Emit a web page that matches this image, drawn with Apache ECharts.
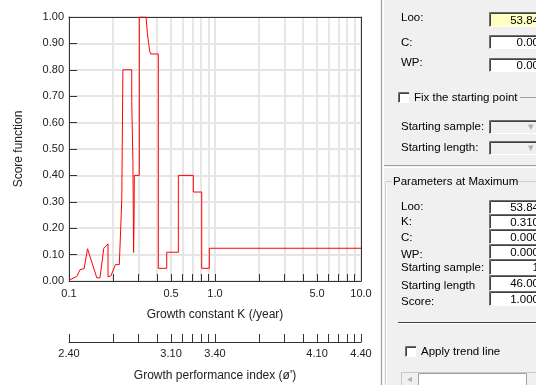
<!DOCTYPE html>
<html>
<head>
<meta charset="utf-8">
<script src="https://cdn.jsdelivr.net/npm/echarts@6/dist/echarts.min.js"></script>
<style>
  html, body { margin: 0; padding: 0; background: #ffffff; }
  #chart { width: 536px; height: 385px; }
</style>
</head>
<body>
<div id="chart"></div>
<script>
// Score function of the K-scan (ELEFAN), K on a log scale
const kValues = [
  0.100, 0.113, 0.119, 0.127, 0.134, 0.155, 0.163, 0.173, 0.185, 0.185,
  0.194, 0.208, 0.221, 0.226, 0.226, 0.230, 0.230, 0.234, 0.234, 0.269,
  0.269, 0.272, 0.274, 0.277, 0.279, 0.280, 0.303, 0.303, 0.337, 0.344,
  0.351, 0.357, 0.363, 0.409, 0.409, 0.467, 0.467, 0.561, 0.561, 0.710,
  0.710, 0.811, 0.811, 0.914, 0.914, 10.0
];
const scores = [
  0.003, 0.017, 0.043, 0.047, 0.122, 0.012, 0.012, 0.123, 0.141, 0.016,
  0.020, 0.062, 0.062, 0.062, 0.197, 0.197, 0.315, 0.315, 0.800, 0.800,
  0.680, 0.680, 0.453, 0.108, 0.225, 0.400, 0.400, 1.000, 1.000, 0.940,
  0.900, 0.870, 0.860, 0.860, 0.048, 0.048, 0.109, 0.109, 0.400, 0.400,
  0.337, 0.337, 0.048, 0.048, 0.124, 0.124
];

// K axis: grid / tick positions and the labelled values
const kGrid = [0.1, 0.2, 0.3, 0.4, 0.5, 0.6, 0.7, 0.8, 0.9, 1, 2, 3, 4, 5, 6, 7, 8, 9, 10];
const kLabelValues = [0.1, 0.5, 1, 5, 10];
const kTickLabels = ['0.1', '0.5', '1.0', '5.0', '10.0'];
// growth performance index labels at the same positions
const phiTickLabels = ['2.40', '3.10', '3.40', '4.10', '4.40'];

// panel fields
const inputLabels = ['Loo:', 'C:', 'WP:'];
const inputValues = ['53.84', '0.00', '0.00'];
const maxLabels = ['Loo:', 'K:', 'C:', 'WP:', 'Starting sample:', 'Starting length', 'Score:'];
const maxValues = ['53.84', '0.310', '0.000', '0.000', '1', '46.00', '1.000'];

const lg = v => Math.log10(v);
const FONT = '"Liberation Sans", Arial, sans-serif';

function pickLabel(list) {
  return function (v) {
    for (let i = 0; i < kLabelValues.length; i++) {
      if (Math.abs(lg(kLabelValues[i]) - v) < 1e-6) return list[i];
    }
    return '';
  };
}

const chart = echarts.init(document.getElementById('chart'), null, { renderer: 'canvas' });

// ---- side panel drawn as graphic elements ----
const PX = 380;
const PANEL_FONT = 11.5;
const graphics = [];
function txt(x, y, s, opt) {
  opt = opt || {};
  graphics.push({
    type: 'text', x: x, y: y, z: 10,
    style: {
      text: s, font: (opt.size || PANEL_FONT) + 'px ' + FONT, fill: opt.color || '#000',
      align: opt.align || 'left', verticalAlign: 'middle',
      textAlign: opt.align || 'left', textVerticalAlign: 'middle'
    }
  });
}
function rect(x, y, w, h, fill, stroke) {
  graphics.push({ type: 'rect', z: 5, shape: { x: x, y: y, width: w, height: h },
    style: { fill: fill, stroke: stroke || null, lineWidth: 1 } });
}
function line(x1, y1, x2, y2, c, w) {
  graphics.push({ type: 'line', z: 6, shape: { x1: x1, y1: y1, x2: x2, y2: y2 },
    style: { stroke: c, lineWidth: w || 1 } });
}
function sunken(x, y, w, h, fill) {
  rect(x, y, w, h, fill);
  line(x + 0.5, y + h, x + 0.5, y + 0.5, '#6d6d6d');
  line(x + 0.5, y + 0.5, x + w, y + 0.5, '#6d6d6d');
  line(x + 1.5, y + h - 1, x + 1.5, y + 1.5, '#404040');
  line(x + 1.5, y + 1.5, x + w, y + 1.5, '#404040');
  line(x + 0.5, y + h - 0.5, x + w, y + h - 0.5, '#ffffff');
}

rect(PX, 0, 156, 385, '#f0f0f0');
line(PX + 1.5, 0, PX + 1.5, 385, '#a0a0a0');
line(PX + 3.5, 0, PX + 3.5, 385, '#ffffff');

// upper panel: fitting inputs
const topBoxes = [[12, 15], [35, 14], [58, 14]];
const topLabelY = [18, 43, 63];
inputLabels.forEach((l, i) => {
  const b = topBoxes[i];
  txt(401, topLabelY[i], l);
  sunken(489, b[0], 52, b[1], i === 0 ? '#ffffc0' : '#ffffff');
  txt(539, b[0] + b[1] / 2 + 1, inputValues[i], { align: 'right' });
});
sunken(398, 92, 11, 11, '#ffffff');
txt(414, 97.5, 'Fix the starting point');
line(520, 97.5, 536, 97.5, '#a0a0a0');
txt(401, 127, 'Starting sample:');
txt(401, 148, 'Starting length:');
[[120, 14], [141, 14]].forEach(b => {
  sunken(489, b[0], 52, b[1], '#f0f0f0');
  txt(531, b[0] + 7, '\u25BE', { color: '#b0b0b0', size: 11, align: 'center' });
});
line(PX + 4, 165.5, 536, 165.5, '#a0a0a0');
line(PX + 4, 167.5, 536, 167.5, '#ffffff');

// lower panel: parameters at maximum
line(385.5, 181.5, 392, 181.5, '#d0d0d0');
line(514, 181.5, 536, 181.5, '#d0d0d0');
line(385.5, 181.5, 385.5, 385, '#d0d0d0');
line(386.5, 182.5, 386.5, 385, '#ffffff');
txt(393, 181.5, 'Parameters at Maximum');
const maxBoxes = [[200, 14], [214, 15], [229, 15], [244, 15], [259, 16], [275, 16], [291, 15]];
const maxLabelY = [207, 222, 238, 255, 268, 286, 302];
maxLabels.forEach((l, i) => {
  const b = maxBoxes[i];
  txt(401, maxLabelY[i], l);
  sunken(489, b[0], 52, b[1], '#ffffff');
  txt(539, b[0] + b[1] / 2 + 1, maxValues[i], { align: 'right' });
});
line(398, 322.5, 536, 322.5, '#404040', 1);
line(398, 323.5, 536, 323.5, '#ffffff', 1);
sunken(405, 346, 11, 11, '#ffffff');
txt(421, 352, 'Apply trend line');
rect(401.5, 372.5, 140, 14, '#f0f0f0', '#c8c8c8');
rect(418.5, 373.5, 108, 12, '#ffffff', '#a0a0a0');
txt(409, 379, '\u25C2', { color: '#b0b0b0', size: 10, align: 'center' });

const axisLineStyle = { color: '#333333', width: 1 };

chart.setOption({
  animation: false,
  backgroundColor: '#ffffff',
  grid: { left: 69, top: 17, width: 292, height: 264, containLabel: false, outerBoundsMode: 'none' },
  xAxis: [
    {
      type: 'value', min: -1, max: 1, position: 'bottom',
      axisLine: { show: true, onZero: false, lineStyle: axisLineStyle },
      axisTick: { show: true, inside: true, length: 7, customValues: kGrid.map(lg), lineStyle: axisLineStyle },
      axisLabel: { customValues: kLabelValues.map(lg), formatter: pickLabel(kTickLabels),
        color: '#222', fontSize: 11, fontFamily: FONT, margin: 7, showMinLabel: true, showMaxLabel: true },
      splitLine: { show: true, lineStyle: { color: '#e6e6e6', width: 2 } },
      name: 'Growth constant K (/year)', nameLocation: 'middle', nameGap: 28,
      nameTextStyle: { color: '#222', fontSize: 12, fontFamily: FONT }
    },
    {
      type: 'value', min: -1, max: 1, position: 'bottom', offset: 61,
      axisLine: { show: true, onZero: false, lineStyle: axisLineStyle },
      axisTick: { show: true, inside: true, length: 8, customValues: kGrid.map(lg), lineStyle: axisLineStyle },
      axisLabel: { customValues: kLabelValues.map(lg), formatter: pickLabel(phiTickLabels),
        color: '#222', fontSize: 11, fontFamily: FONT, margin: 6, showMinLabel: true, showMaxLabel: true },
      splitLine: { show: false },
      name: "Growth performance index (\u00f8')", nameLocation: 'middle', nameGap: 28,
      nameTextStyle: { color: '#222', fontSize: 12, fontFamily: FONT }
    },
    {
      type: 'value', min: -1, max: 1, position: 'top',
      axisLine: { show: true, onZero: false, lineStyle: axisLineStyle },
      axisTick: { show: false }, axisLabel: { show: false }, splitLine: { show: false }
    }
  ],
  yAxis: [
    {
      type: 'value', min: 0, max: 1, interval: 0.1,
      axisLine: { show: true, onZero: false, lineStyle: axisLineStyle },
      axisTick: { show: true, inside: true, length: 8, lineStyle: axisLineStyle },
      axisLabel: { formatter: v => v.toFixed(2), color: '#222', fontSize: 11, fontFamily: FONT, margin: 5 },
      splitLine: { show: true, lineStyle: { color: '#e6e6e6', width: 2 } },
      name: 'Score function', nameLocation: 'middle', nameGap: 44, nameRotate: 90,
      nameTextStyle: { color: '#222', fontSize: 12, fontFamily: FONT }
    },
    {
      type: 'value', min: 0, max: 1, position: 'right',
      axisLine: { show: true, onZero: false, lineStyle: axisLineStyle },
      axisTick: { show: false }, axisLabel: { show: false }, splitLine: { show: false }
    }
  ],
  series: [{
    type: 'line',
    xAxisIndex: 0, yAxisIndex: 0,
    data: kValues.map((k, i) => [lg(k), scores[i]]),
    showSymbol: false, symbol: 'none',
    lineStyle: { color: '#ff0000', width: 1 },
    z: 3
  }],
  graphic: graphics
});
</script>
</body>
</html>
